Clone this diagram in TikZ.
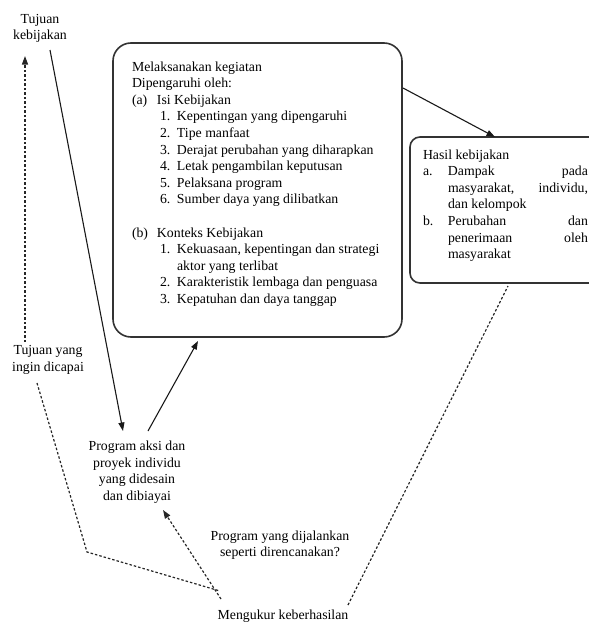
\documentclass[tikz,border=0pt]{standalone}
\usepackage{fontspec}
\setmainfont{Liberation Serif}
\usetikzlibrary{arrows.meta}
\begin{document}
\begin{tikzpicture}[x=1pt,y=-1pt,
  txt/.style={font=\fontsize{13.8}{16.6}\selectfont, inner sep=0pt, outer sep=0pt, text=black},
  solidarrow/.style={draw=black!90, line width=1.1pt, -{Triangle[length=8.5pt,width=6pt]}},
  dotline/.style={draw=black!85, line width=1.2pt, dash pattern=on 2.5pt off 2pt},
  dotarrow/.style={dotline, -{Triangle[length=8.5pt,width=6pt]}},
  roundbox/.style={draw=black!80, line width=1.6pt, rectangle, inner sep=0pt, outer sep=0pt}]
\useasboundingbox (0,0) rectangle (589,624);

% boxes
\node[roundbox, rounded corners=18pt, minimum width=289pt, minimum height=294pt] (bigbox) at (257.5,190) {};
\node[roundbox, rounded corners=10pt, minimum width=210pt, minimum height=146pt] (resbox) at (515,210) {};

% big box text
\node[txt, anchor=north west, align=left] (bigtext) at (132,61.5) {%
Melaksanakan kegiatan\\
Dipengaruhi oleh:\\
\makebox[25pt][l]{(a)}Isi Kebijakan\\
\hspace*{28pt}\makebox[17pt][l]{1.}Kepentingan yang dipengaruhi\\
\hspace*{28pt}\makebox[17pt][l]{2.}Tipe manfaat\\
\hspace*{28pt}\makebox[17pt][l]{3.}Derajat perubahan yang diharapkan\\
\hspace*{28pt}\makebox[17pt][l]{4.}Letak pengambilan keputusan\\
\hspace*{28pt}\makebox[17pt][l]{5.}Pelaksana program\\
\hspace*{28pt}\makebox[17pt][l]{6.}Sumber daya yang dilibatkan\\
\mbox{}\\
\makebox[25pt][l]{(b)}Konteks Kebijakan\\
\hspace*{28pt}\makebox[17pt][l]{1.}Kekuasaan, kepentingan dan strategi\\
\hspace*{45pt}aktor yang terlibat\\
\hspace*{28pt}\makebox[17pt][l]{2.}Karakteristik lembaga dan penguasa\\
\hspace*{28pt}\makebox[17pt][l]{3.}Kepatuhan dan daya tanggap};

% result box text
\node[txt, anchor=north west, align=left] (restext) at (423,149.5) {%
Hasil kebijakan\\
\makebox[25pt][l]{a.}\makebox[140pt][s]{Dampak\hfill pada}\\
\hspace*{25pt}\makebox[140pt][s]{masyarakat,\hfill individu,}\\
\hspace*{25pt}dan kelompok\\
\makebox[25pt][l]{b.}\makebox[140pt][s]{Perubahan\hfill dan}\\
\hspace*{25pt}\makebox[140pt][s]{penerimaan\hfill oleh}\\
\hspace*{25pt}masyarakat};

% free text nodes
\node[txt, align=center] (tk) at (40,28.5) {Tujuan\\kebijakan};
\node[txt, align=center] (tyd) at (48,360) {Tujuan yang\\ingin dicapai};
\node[txt, align=center] (prog) at (137,472) {Program aksi dan\\proyek individu\\yang didesain\\dan dibiayai};
\node[txt, align=center] (pyd) at (280,545) {Program yang dijalankan\\seperti direncanakan?};
\node[txt, align=center] (mk) at (283,616) {Mengukur keberhasilan};

% connector end points
\coordinate (a1s) at (50,50);
\coordinate (a1e) at (123,431);
\coordinate (a2s) at (148,431);
\coordinate (a2e) at (198,341);
\coordinate (a3s) at (403,88);
\coordinate (a3e) at (495,137);
\coordinate (d1s) at (25,342);
\coordinate (d1e) at (25,56);
\coordinate (d2s) at (37,383);
\coordinate (d2m) at (87,552);
\coordinate (d2e) at (220,591);
\coordinate (d3s) at (221,599);
\coordinate (d3e) at (163,510);
\coordinate (d4s) at (348,605);
\coordinate (d4e) at (508,286);

% solid arrows
\draw[solidarrow] (a1s) -- (a1e);
\draw[solidarrow] (a2s) -- (a2e);
\draw[solidarrow] (a3s) -- (a3e);

% dotted connectors
\draw[dotarrow] (d1s) -- (d1e);
\draw[dotline] (d2s) -- (d2m) -- (d2e);
\draw[dotarrow] (d3s) -- (d3e);
\draw[dotline] (d4s) -- (d4e);
\end{tikzpicture}
\end{document}
